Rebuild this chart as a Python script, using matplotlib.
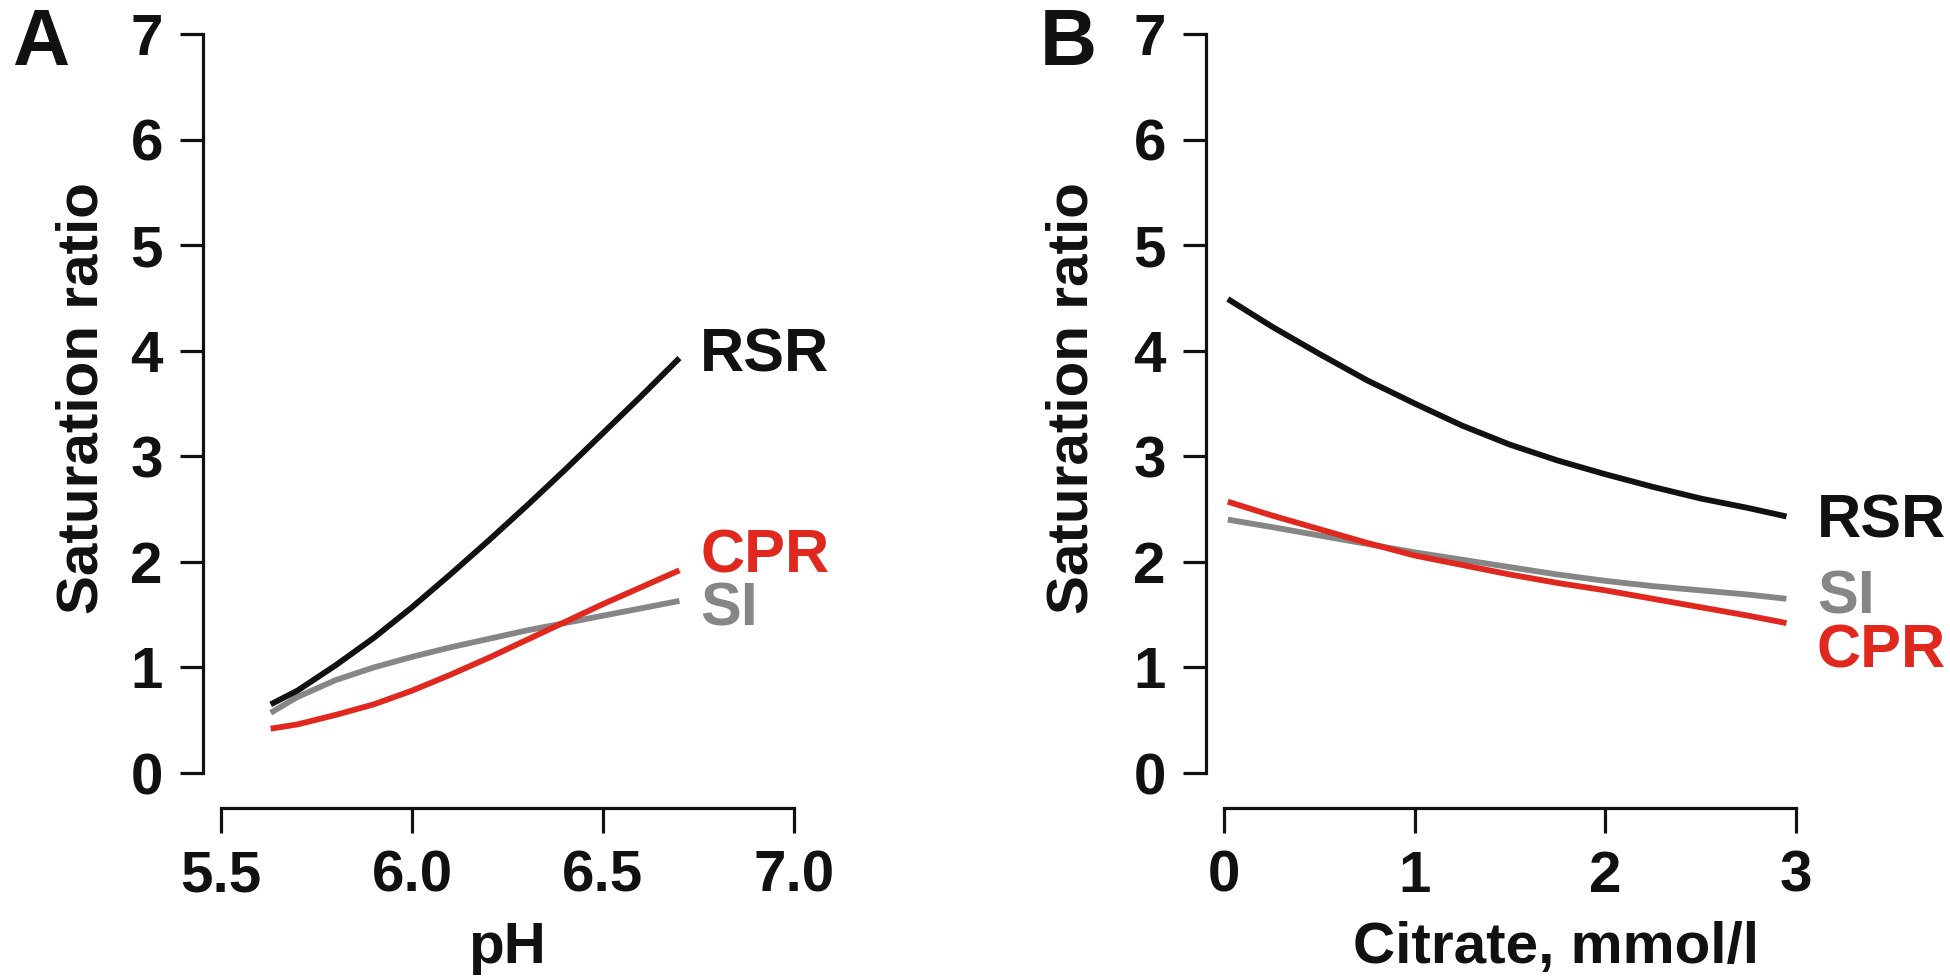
import matplotlib
matplotlib.use("Agg")
import matplotlib.pyplot as plt

plt.rcParams['font.family'] = ['Liberation Sans', 'DejaVu Sans']
plt.rcParams['font.weight'] = 'bold'

# ---------------- data ----------------
# Panel A: saturation ratio vs pH
ph = [5.63, 5.7, 5.8, 5.9, 6.0, 6.1, 6.2, 6.3, 6.4, 6.5, 6.6, 6.7]
rsr_a = [0.65, 0.78, 1.02, 1.28, 1.57, 1.88, 2.20, 2.53, 2.87, 3.22, 3.57, 3.93]
cpr_a = [0.42, 0.46, 0.55, 0.65, 0.78, 0.93, 1.09, 1.26, 1.43, 1.60, 1.76, 1.92]
si_a = [0.57, 0.72, 0.88, 1.00, 1.10, 1.19, 1.27, 1.35, 1.42, 1.49, 1.56, 1.63]

# Panel B: saturation ratio vs citrate
citrate = [0.02, 0.25, 0.5, 0.75, 1.0, 1.25, 1.5, 1.75, 2.0, 2.25, 2.5, 2.75, 2.95]
rsr_b = [4.49, 4.23, 3.97, 3.72, 3.50, 3.29, 3.11, 2.96, 2.83, 2.71, 2.60, 2.51, 2.43]
cpr_b = [2.57, 2.44, 2.31, 2.18, 2.06, 1.97, 1.88, 1.80, 1.73, 1.65, 1.57, 1.49, 1.42]
si_b = [2.40, 2.33, 2.25, 2.17, 2.09, 2.02, 1.95, 1.88, 1.82, 1.77, 1.73, 1.69, 1.65]

series_names = ["RSR", "CPR", "SI"]
yticks = [0, 1, 2, 3, 4, 5, 6, 7]
xticks_a = [5.5, 6.0, 6.5, 7.0]
xticklabels_a = ["5.5", "6.0", "6.5", "7.0"]
xticks_b = [0, 1, 2, 3]
xticklabels_b = ["0", "1", "2", "3"]

# label anchors (left x, baseline y) in data units
labels_a = {"RSR": (6.754, 3.80), "CPR": (6.754, 1.90), "SI": (6.754, 1.40)}
labels_b = {"RSR": (3.11, 2.235), "SI": (3.11, 1.515), "CPR": (3.11, 1.004)}

colors = {"RSR": "#111111", "CPR": "#E0281E", "SI": "#868686"}

W, H = 1950, 980
fig = plt.figure(figsize=(W / 100, H / 100), dpi=100)

ax_a = fig.add_axes([221 / W, (H - 773) / H, 573 / W, 739 / H])
ax_b = fig.add_axes([1224 / W, (H - 773) / H, 572 / W, 739 / H])

def style(ax, xlim, xticks, xticklabels, xlabel, xlab_frac, ylab_frac):
    ax.set_xlim(*xlim)
    ax.set_ylim(0, 7)
    for s in ("top", "right"):
        ax.spines[s].set_visible(False)
    ax.spines["left"].set_position(("outward", 13.3))
    ax.spines["bottom"].set_position(("outward", 25.2))
    ax.spines["left"].set_bounds(0, 7)
    ax.spines["bottom"].set_bounds(*xlim)
    for s in ("left", "bottom"):
        ax.spines[s].set_linewidth(2.3)
        ax.spines[s].set_color("#111111")
    ax.set_yticks(yticks)
    ax.set_yticklabels([str(v) for v in yticks])
    ax.set_xticks(xticks)
    ax.set_xticklabels(xticklabels)
    ax.tick_params(axis="y", length=16.5, width=2.3, pad=12, labelsize=42,
                   color="#111111", labelcolor="#111111")
    ax.tick_params(axis="x", length=18, width=2.3, pad=12, labelsize=42,
                   color="#111111", labelcolor="#111111")
    for lab in ax.get_xticklabels() + ax.get_yticklabels():
        lab.set_fontweight("bold")
    ax.set_ylabel("Saturation ratio", fontsize=42, fontweight="bold",
                  color="#111111", va="center", ha="center")
    ax.yaxis.set_label_coords(ylab_frac, 0.507)
    ax.set_xlabel(xlabel, fontsize=42, fontweight="bold", color="#111111",
                  va="baseline", ha="center")
    ax.xaxis.set_label_coords(xlab_frac, -0.257)

style(ax_a, (5.5, 7.0), xticks_a, xticklabels_a, "pH", 0.5, -0.241)
style(ax_b, (0, 3), xticks_b, xticklabels_b, "Citrate, mmol/l", 0.58, -0.265)

lw = 4.2
for name, ys in zip(["SI", "CPR", "RSR"], [si_a, cpr_a, rsr_a]):
    ax_a.plot(ph, ys, color=colors[name], lw=lw, solid_capstyle="butt",
              solid_joinstyle="round", clip_on=False)
for name, ys in zip(["SI", "CPR", "RSR"], [si_b, cpr_b, rsr_b]):
    ax_b.plot(citrate, ys, color=colors[name], lw=lw, solid_capstyle="butt",
              solid_joinstyle="round", clip_on=False)

for ax, labs in ((ax_a, labels_a), (ax_b, labels_b)):
    for name in series_names:
        x, y = labs[name]
        ax.text(x, y, name, color=colors[name], fontsize=44, fontweight="bold",
                ha="left", va="baseline", clip_on=False)

fig.text(12 / W, 1 - 65 / H, "A", fontsize=57, fontweight="bold",
         ha="left", va="baseline", color="#111111")
fig.text(1040 / W, 1 - 65 / H, "B", fontsize=57, fontweight="bold",
         ha="left", va="baseline", color="#111111")

fig.savefig("out.png", dpi=100, facecolor="white")
